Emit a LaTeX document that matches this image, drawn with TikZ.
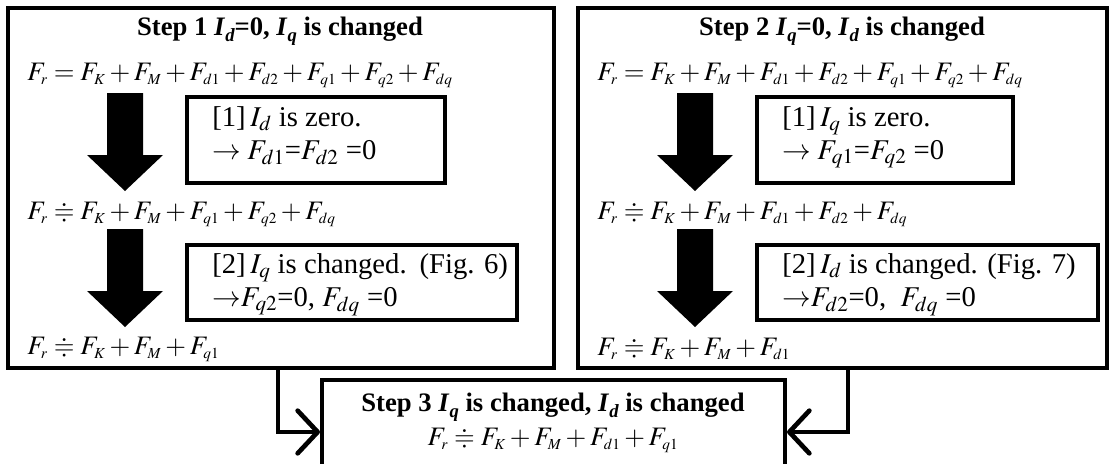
\documentclass[tikz,border=0pt]{standalone}
\usepackage{amssymb}
\usepackage{mathptmx}
\usepackage{fontspec}
\setmainfont{Liberation Serif}
\usetikzlibrary{arrows.meta,fit}
\newcommand{\bIs}[1]{\textbf{\textit{I}}\raisebox{-0.22em}{\fontsize{14}{14}\selectfont\bfseries\itshape #1}}
\DeclareMathSizes{20}{20}{11.5}{9}
\medmuskip=2.5mu plus 1mu minus 1mu
\thickmuskip=4mu plus 2mu
\begin{document}
\begin{tikzpicture}[x=0.75pt,y=-0.75pt,
  frame/.style={draw,line width=3pt,inner sep=0pt},
  titletxt/.style={font=\fontsize{20}{24}\selectfont\bfseries,inner sep=0pt},
  eqtxt/.style={font=\fontsize{20}{24}\selectfont,inner sep=0pt,anchor=west},
  boxtxt/.style={font=\fontsize{21.5}{25}\selectfont,inner sep=0pt,anchor=north west,align=left},
  conn/.style={line width=3.5pt,-{Straight Barb[length=15pt,width=32pt,round]}},
  bigarrow/.pic={\fill (-18,0) -- (18,0) -- (18,62) -- (38,62) -- (0,98) -- (-38,62) -- (-18,62) -- cycle;}
]
\useasboundingbox (0,0) rectangle (1111,464);
\clip (0,0) rectangle (1111,464);
% outer boxes
\coordinate (Lnw) at (8,8); \coordinate (Lse) at (554,368);
\node[frame,fit=(Lnw)(Lse)] (L) {};
\coordinate (Rnw) at (578,8); \coordinate (Rse) at (1107,368);
\node[frame,fit=(Rnw)(Rse)] (R) {};
\coordinate (Bnw) at (322,380); \coordinate (Bse) at (785,484);
\node[frame,fit=(Bnw)(Bse)] (B) {};
% inner boxes
\coordinate (L1nw) at (187,97); \coordinate (L1se) at (445,183);
\node[frame,fit=(L1nw)(L1se)] (L1) {};
\coordinate (L2nw) at (187,245); \coordinate (L2se) at (517,320);
\node[frame,fit=(L2nw)(L2se)] (L2) {};
\coordinate (R1nw) at (757,97); \coordinate (R1se) at (1013,183);
\node[frame,fit=(R1nw)(R1se)] (R1) {};
\coordinate (R2nw) at (757,245); \coordinate (R2se) at (1098,320);
\node[frame,fit=(R2nw)(R2se)] (R2) {};
% titles
\node[titletxt] (Lt) at (280,31) {Step 1 \bIs{d}=0, \bIs{q} is changed};
\node[titletxt] (Rt) at (842,31) {Step 2 \bIs{q}=0, \bIs{d} is changed};
\node[titletxt] (Bt) at (553,407) {Step 3 \bIs{q} is changed, \bIs{d} is changed};
% equations left
\node[eqtxt] (Le1) at (27,75) {$F_r = F_K + F_M + F_{d1} + F_{d2} + F_{q1} + F_{q2} + F_{dq}$};
\node[eqtxt] (Le2) at (27,214) {$F_r \doteqdot F_K + F_M + F_{q1} + F_{q2} + F_{dq}$};
\node[eqtxt] (Le3) at (27,349) {$F_r \doteqdot F_K + F_M + F_{q1}$};
% equations right
\node[eqtxt] (Re1) at (597,75) {$F_r = F_K + F_M + F_{d1} + F_{d2} + F_{q1} + F_{q2} + F_{dq}$};
\node[eqtxt] (Re2) at (597,214) {$F_r \doteqdot F_K + F_M + F_{d1} + F_{d2} + F_{dq}$};
\node[eqtxt] (Re3) at (597,349) {$F_r \doteqdot F_K + F_M + F_{d1}$};
% bottom equation
\node[eqtxt,anchor=center] (Be) at (553,440) {$F_r \doteqdot F_K + F_M + F_{d1} + F_{q1}$};
% inner texts
\node[boxtxt] (L1t) at (212,106) {[1]\,$I_d$ is zero.\\$\rightarrow F_{d1}$=$F_{d2}$ =0};
\node[boxtxt] (L2t) at (212,253) {[2]\,$I_q$ is changed.\hspace{0.45em}(Fig. 6)\\$\rightarrow$$F_{q2}$=0, $F_{dq}$ =0};
\node[boxtxt] (R1t) at (782,106) {[1]\,$I_q$ is zero.\\$\rightarrow F_{q1}$=$F_{q2}$ =0};
\node[boxtxt] (R2t) at (782,253) {[2]\,$I_d$ is changed. (Fig. 7)\\$\rightarrow$$F_{d2}$=0,\ \ $F_{dq}$ =0};
% block arrows
\pic at (125,93) {bigarrow};
\pic at (125,229) {bigarrow};
\pic at (695,93) {bigarrow};
\pic at (695,229) {bigarrow};
% connectors
\coordinate (cL) at (278,432);
\coordinate (cR) at (848,432);
\draw[conn] (L.south -| cL) |- (B.west |- cL);
\draw[conn] (R.south -| cR) |- (B.east |- cR);
\end{tikzpicture}
\end{document}
